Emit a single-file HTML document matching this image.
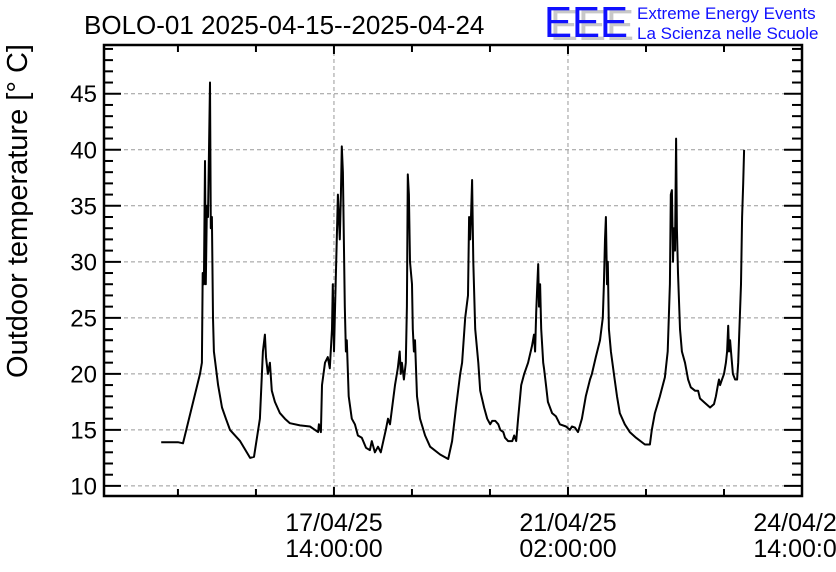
<!DOCTYPE html>
<html><head><meta charset="utf-8"><style>
body{margin:0;background:#fff;}
svg{display:block;font-family:"Liberation Sans",sans-serif;}
</style></head><body>
<svg id="chart" width="836" height="572" viewBox="0 0 836 572">
<rect width="836" height="572" fill="#fff"/>
<text x="84" y="34" font-size="26" fill="#000">BOLO-01 2025-04-15--2025-04-24</text>
<g>
<text x="550" y="40" font-size="44" fill="#c8c8c8" textLength="84" lengthAdjust="spacingAndGlyphs">EEE</text>
<text x="544" y="37" font-size="44" fill="#1010ff" textLength="84" lengthAdjust="spacingAndGlyphs">EEE</text>
<text x="637" y="19" font-size="17" fill="#1010ff">Extreme Energy Events</text>
<text x="637" y="39" font-size="17" fill="#1010ff">La Scienza nelle Scuole</text>
</g>
<text transform="translate(27,211) rotate(-90)" text-anchor="middle" font-size="29" fill="#000">Outdoor temperature [° C]</text>
<g id="grid"></g>
<g id="axes"></g>
<path id="line" fill="none" stroke="#000" stroke-width="2" stroke-linejoin="round"/>
<rect x="104" y="45" width="698" height="451" fill="none" stroke="#000" stroke-width="2.5"/>
</svg>
<script>
const hours=[0,6.0,7.8,13.9,14.6,14.9,15.3,15.7,16.0,16.4,16.8,17.5,17.8,18.2,18.6,18.9,20.4,21.8,23.2,24.7,28.3,31.9,33.3,35.4,36.5,37.2,37.6,38.3,39.0,39.7,40.8,42.6,44.4,46.2,49.8,53.4,55.2,56.3,56.6,57.3,57.7,58.8,59.8,60.5,61.3,61.6,62.0,62.3,63.4,64.1,64.5,64.8,65.2,65.9,66.3,66.6,67.3,68.4,69.5,70.6,72.0,73.5,74.9,75.6,76.7,77.8,78.8,80.6,81.4,82.1,83.9,84.9,85.6,86.0,86.4,87.1,87.8,88.2,88.5,88.9,89.3,90.0,90.3,90.7,91.1,91.8,92.9,94.7,96.5,100.1,103.0,104.4,105.8,107.3,108.0,109.1,110.1,110.5,110.9,111.2,111.6,112.0,112.7,113.8,114.5,115.9,117.0,118.1,118.8,119.9,121.0,121.7,122.8,123.4,124.5,126.0,126.7,127.4,128.1,129.2,130.3,131.7,133.1,133.8,134.2,134.6,134.9,135.3,135.6,136.0,136.4,137.1,137.4,138.1,138.8,140.3,141.7,143.1,145.3,146.7,147.4,148.5,149.6,151.0,152.4,153.9,154.6,156.0,157.5,158.5,158.9,159.3,159.6,160.0,160.3,160.7,161.4,162.5,163.6,164.6,166.4,168.2,170.4,173.6,175.4,176.1,177.2,179.0,180.8,181.8,182.6,182.9,183.3,183.7,184.0,184.4,184.8,185.1,185.5,186.2,186.9,188.0,189.1,190.1,191.6,192.7,193.4,195.2,197.0,198.4,199.1,199.8,200.2,200.6,201.3,202.0,202.7,203.1,203.5,203.8,204.2,204.5,205.2,206.0,206.7,207.1,207.4,208.1,208.5,208.9,209.2];
const temps=[13.9,13.9,13.8,20,21,29,28,39,28,35,34,46,33,34,25,22,19,17,16,15,14,12.5,12.6,16,22,23.5,21.5,20,21,18.5,17.5,16.5,16,15.6,15.4,15.3,15,14.8,15.5,14.8,19,21,21.5,20.5,24,28,22,25,36,32,36,40.3,38,26,22,23,18,16,15.5,14.5,14.3,13.4,13.2,14,13,13.5,13,15,16,15.5,19,20.5,22,20,21,19.5,21,26,37.8,36,30,28,24,22,23,18,16,14.5,13.5,12.8,12.4,14,17,20,21,25,27,34,32,34,37.3,30,24,21,18.5,17,16,15.5,15.8,15.8,15.5,15,14.8,14.3,14,14,14.5,14,16,19,20,21,22.5,23.5,22,25.5,27.5,29.8,26,28,24,21,20.5,19,17.5,16.5,16.2,15.5,15.3,15,15.3,15.2,14.8,16,18,19.5,20,21.5,23,25,28,32,34,28,30,24,22,20,18,16.5,15.5,14.8,14.3,13.7,13.7,15,16.5,18,19.7,22,28,36,36.4,30,33,31,41,33,29,24,22,21,19.5,18.8,18.5,18.5,17.8,17.4,17,17.3,18,19,19.5,19,19.5,20,21,22,24.3,22,23,22,20,19.5,19.5,21,23,28,34,37,40];
const yTicks=[10,15,20,25,30,35,40,45];
const xTickHours=[6,34,62,90,118,146,174,202,230];
const xLabelHours=[62,146,230];
const xLabels=[["17/04/25","14:00:00"],["21/04/25","02:00:00"],["24/04/25","14:00:00"]];

const X0=103,X1=802,Y0=496,Y1=45;
const hMin=-20.9,hMax=230,tMin=9.1,tMax=49.35;
const xs=h=>X0+(h-hMin)/(hMax-hMin)*(X1-X0);
const ys=t=>Y0-(t-tMin)/(tMax-tMin)*(Y0-Y1);
const NS="http://www.w3.org/2000/svg";
const grid=document.getElementById('grid'),axes=document.getElementById('axes');
function mk(tag,attrs,parent){const e=document.createElementNS(NS,tag);for(const k in attrs)e.setAttribute(k,attrs[k]);parent.appendChild(e);return e;}
yTicks.forEach(t=>{
  const y=ys(t);
  const g=mk('line',{x1:X0,x2:X1,y1:y,y2:y,stroke:'#999','stroke-dasharray':'4,3','stroke-width':1},grid);
  
  
  const lb=mk('text',{x:97,y:y+8.5,'text-anchor':'end','font-size':24},axes);
  lb.textContent=t;
  
  
});
for(let t=10;t<=49;t++){
  const y=ys(t),len=t%5===0?18:10;
  const a=mk('line',{x1:X0,x2:X0+len,y1:y,y2:y,stroke:'#000','stroke-width':2},axes);
  
  
  const b=mk('line',{x1:X1-len,x2:X1,y1:y,y2:y,stroke:'#000','stroke-width':2},axes);
  
  
}
xTickHours.forEach(h=>{
  const x=xs(h),major=xLabelHours.includes(h),len=major?9:7;
  const a=mk('line',{x1:x,x2:x,y1:Y0,y2:Y0-len,stroke:'#000','stroke-width':2},axes);
  
  
  const b=mk('line',{x1:x,x2:x,y1:Y1,y2:Y1+len,stroke:'#000','stroke-width':2},axes);
  
  
});
xLabelHours.forEach((h,i)=>{
  const x=xs(h);
  if(h<hMax){const g=mk('line',{x1:x,x2:x,y1:Y1,y2:Y0,stroke:'#999','stroke-dasharray':'4,3','stroke-width':1},grid);
  
  }
  const t1=mk('text',{x:x,y:531,'text-anchor':'middle','font-size':25},axes);
  t1.textContent=xLabels[i][0];
  
  
  const t2=mk('text',{x:x,y:557,'text-anchor':'middle','font-size':25},axes);
  t2.textContent=xLabels[i][1];
  
  
});
let d='';
hours.forEach((h,i)=>{d+=(i?'L':'M')+xs(h).toFixed(1)+','+ys(temps[i]).toFixed(1);});
document.getElementById('line').setAttribute('d',d);
</script>
</body></html>
